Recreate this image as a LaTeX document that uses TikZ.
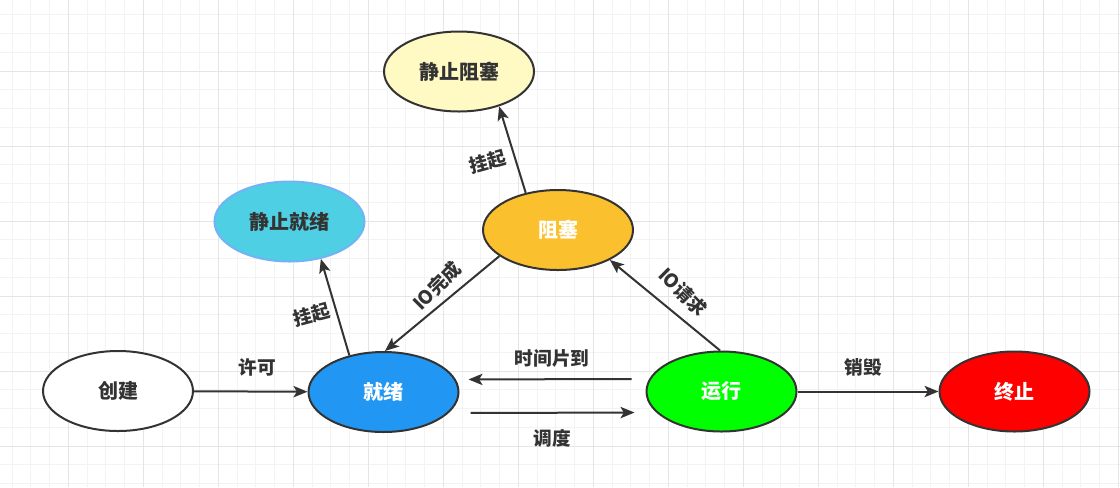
\documentclass[tikz,border=0pt]{standalone}
\usepackage{fontspec}
\setmainfont{Noto Sans CJK SC}
\usetikzlibrary{arrows.meta,shapes.geometric}
\definecolor{inkgray}{HTML}{333333}
\definecolor{minorgrid}{HTML}{F3F3F3}
\definecolor{majorgrid}{HTML}{E5E5E5}
\definecolor{readyblue}{HTML}{2196F3}
\definecolor{blockamber}{HTML}{FBC02D}
\definecolor{qblockyellow}{HTML}{FFF9C4}
\definecolor{qreadycyan}{HTML}{4ECFE3}
\definecolor{qreadyborder}{HTML}{72B2F5}
\newcommand{\thick}{1.5pt}
\newcommand{\cell}{18.75}

\tikzset{
  state/.style={ellipse, draw=inkgray, line width=\thick, minimum width=112.5pt, minimum height=60pt, inner sep=0pt, font=\bfseries\fontsize{15}{18}\selectfont, text=inkgray},
  hot/.style={state, text=white},
  trans/.style={draw=inkgray, line width=\thick, -{Stealth[length=10.5pt,width=8.5pt,inset=2.5pt]}},
  tag/.style={font=\bfseries\fontsize{14}{16}\selectfont, text=inkgray, inner sep=0pt}
}

\begin{document}
\begin{tikzpicture}[x=0.75pt,y=-0.75pt]
\useasboundingbox (0,0) rectangle (1120,487);
%grid
\foreach \g in {0,...,59} \draw[minorgrid, line width=0.75pt] ({12.05+\cell*\g},0) -- ++(0,487);
\foreach \g in {0,...,25} \draw[minorgrid, line width=0.75pt] (0,{14.75+\cell*\g}) -- ++(1120,0);
\foreach \g in {0,...,14} \draw[majorgrid, line width=0.75pt] ({68.3+4*\cell*\g},0) -- ++(0,487);
\foreach \g in {0,...,5} \draw[majorgrid, line width=0.75pt] (0,{71+4*\cell*\g}) -- ++(1120,0);
%states
\node[state, fill=white] (create) at (118,391) {创建};
\node[hot, fill=readyblue] (ready) at (383.5,392) {就绪};
\node[hot, fill=green] (run) at (721.5,391.5) {运行};
\node[hot, fill=red] (term) at (1014.5,391.5) {终止};
\node[hot, fill=blockamber] (block) at (558,230) {阻塞};
\node[state, fill=qblockyellow] (qblock) at (459,71.5) {静止阻塞};
\node[state, fill=qreadycyan, draw=qreadyborder] (qready) at (289.5,221.5) {静止就绪};
%transitions
\draw[trans] (create) -- (ready);
\draw[trans] (ready.133) -- (qready.-50);
\draw[trans] (block.131) -- (qblock.-41);
\draw[trans] (block.204) -- (ready.88);
\draw[trans] (run.92) -- (block.-30);
\draw[trans, shorten <=10.5pt, shorten >=6.75pt] ([yshift=9.4pt]run.west) -- ([yshift=9.4pt]ready.east);
\draw[trans, shorten <=8.25pt, shorten >=8.25pt] ([yshift=-15.75pt]ready.east) -- ([yshift=-15.75pt]run.west);
\draw[trans] (run) -- (term);
%labels
\node[tag] (permit) at (257,367) {许可};
\node[tag, rotate=15] (suspendready) at (312,315) {挂起};
\node[tag, rotate=15] (suspendblock) at (488,162) {挂起};
\node[tag, rotate=45] (iodone) at (437,286) {IO完成};
\node[tag, rotate=-45] (ioreq) at (683,292) {IO请求};
\node[tag] (slice) at (552,358) {时间片到};
\node[tag] (sched) at (552,438) {调度};
\node[tag] (destroy) at (863,367) {销毁};
\end{tikzpicture}
\end{document}
